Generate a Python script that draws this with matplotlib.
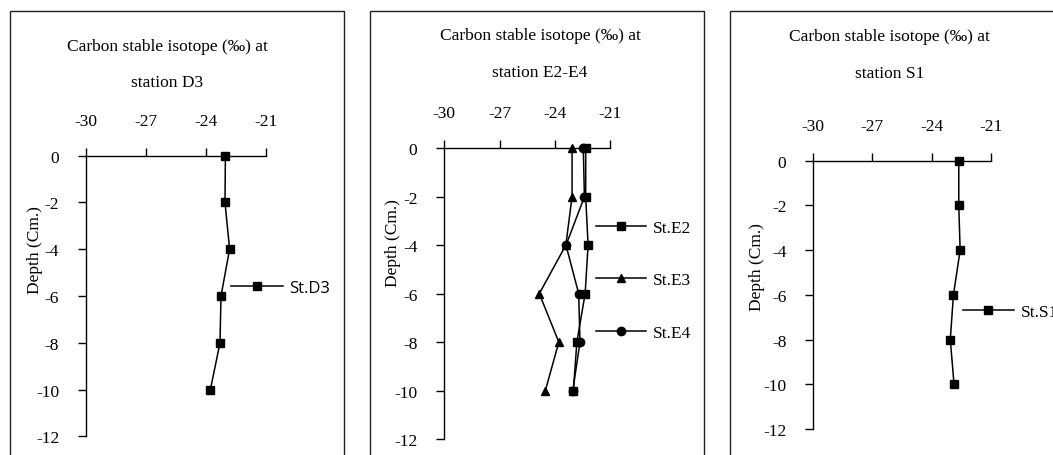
import matplotlib
matplotlib.use("Agg")
import matplotlib.pyplot as plt
from matplotlib.patches import Rectangle

plt.rcParams['axes.unicode_minus'] = False
plt.rcParams['font.family'] = ['Liberation Serif', 'DejaVu Serif']

# ---- data ----
depth = [0, -2, -4, -6, -8, -10]
d3 = [-23.03, -23.05, -22.82, -23.25, -23.30, -23.78]
e2 = [-22.32, -22.32, -22.19, -22.35, -22.80, -22.99]
e3 = [-23.06, -23.06, -23.40, -24.84, -23.78, -24.51]
e4 = [-22.45, -22.39, -23.39, -22.70, -22.63, -23.02]
s1 = [-22.62, -22.62, -22.55, -22.89, -23.05, -22.86]

x_ticks = [-30, -27, -24, -21]
y_ticks = [-12, -10, -8, -6, -4, -2, 0]
title_line1 = "Carbon stable isotope (‰) at"
titles_line2 = ["station D3", "station E2-E4", "station S1"]
ylabel = "Depth (Cm.)"

W, H = 1053, 456
fig = plt.figure(figsize=(W / 100, H / 100), dpi=100)
fig.patch.set_facecolor('white')

def fx(px):
    return px / W

def fy(py):
    return 1 - py / H

FS = 12.5

# panel frames
for (l, r) in [(10, 344), (370, 704), (730, 1070)]:
    fig.patches.append(Rectangle((fx(l), fy(470)), fx(r) - fx(l), fy(12) - fy(470),
                                 transform=fig.transFigure, fill=False,
                                 edgecolor='#222222', linewidth=1.0))

# axes geometry in pixel coords: x0, x1, ytop, ybottom
geoms = [(86, 266, 156.7, 437.3), (444.3, 610, 149.3, 440), (813.3, 990.7, 161.7, 430)]
title_pos = [(167, 47, 83), (540, 36, 72.7), (889.3, 36.7, 74)]
ylabel_pos = [(35, 250), (393.3, 243.5), (756.7, 267.5)]

axes = []
for (x0, x1, yt, yb) in geoms:
    ax = fig.add_axes([fx(x0), fy(yb), (x1 - x0) / W, (yb - yt) / H])
    ax.set_xlim(-30, -21)
    ax.set_ylim(-12, 0)
    ax.set_xticks(x_ticks)
    ax.set_yticks(y_ticks)
    ax.set_xticklabels([str(v) for v in x_ticks])
    ax.set_yticklabels([str(v) for v in y_ticks])
    ax.xaxis.tick_top()
    ax.spines['right'].set_visible(False)
    ax.spines['bottom'].set_visible(False)
    ax.spines['top'].set_linewidth(1.0)
    ax.spines['left'].set_linewidth(1.0)
    ax.tick_params(axis='both', direction='out', length=5.8, width=1.0,
                   labelsize=FS, pad=13.5, colors='black')
    ax.patch.set_alpha(0)
    axes.append(ax)

for (cx, y1, y2), t2 in zip(title_pos, titles_line2):
    fig.text(fx(cx), fy(y1), title_line1, ha='center', va='center', fontsize=FS)
    fig.text(fx(cx), fy(y2), t2, ha='center', va='center', fontsize=FS)

for (lx, ly) in ylabel_pos:
    fig.text(fx(lx), fy(ly), ylabel, ha='center', va='center', rotation=90, fontsize=FS)

kw = dict(color='black', linewidth=1.1, markersize=6, clip_on=False)

# panel 1
ax = axes[0]
ax.plot(d3, depth, marker='s', label='St.D3', **kw)
ax.legend(loc='center left', bbox_to_anchor=(fx(231), fy(289)),
          bbox_transform=fig.transFigure, frameon=False, borderpad=0,
          borderaxespad=0, handlelength=3.1, handletextpad=0.4, numpoints=1,
          prop={'family': 'Open Sans', 'size': 12})

# panel 2
ax = axes[1]
ax.plot(e2, depth, marker='s', label='St.E2', **kw)
ax.plot(e3, depth, marker='^', label='St.E3', **kw)
ax.plot(e4, depth, marker='o', label='St.E4', **kw)
ax.legend(loc='center left', bbox_to_anchor=(fx(596), fy(281.3)),
          bbox_transform=fig.transFigure, frameon=False, borderpad=0,
          borderaxespad=0, handlelength=2.9, handletextpad=0.4, numpoints=1,
          labelspacing=2.1, prop={'family': 'Liberation Serif', 'size': FS})

# panel 3
ax = axes[2]
ax.plot(s1, depth, marker='s', label='St.S1', **kw)
ax.legend(loc='center left', bbox_to_anchor=(fx(963.3), fy(313.3)),
          bbox_transform=fig.transFigure, frameon=False, borderpad=0,
          borderaxespad=0, handlelength=2.9, handletextpad=0.4, numpoints=1,
          prop={'family': 'Liberation Serif', 'size': FS})

fig.savefig('out.png', dpi=100)
